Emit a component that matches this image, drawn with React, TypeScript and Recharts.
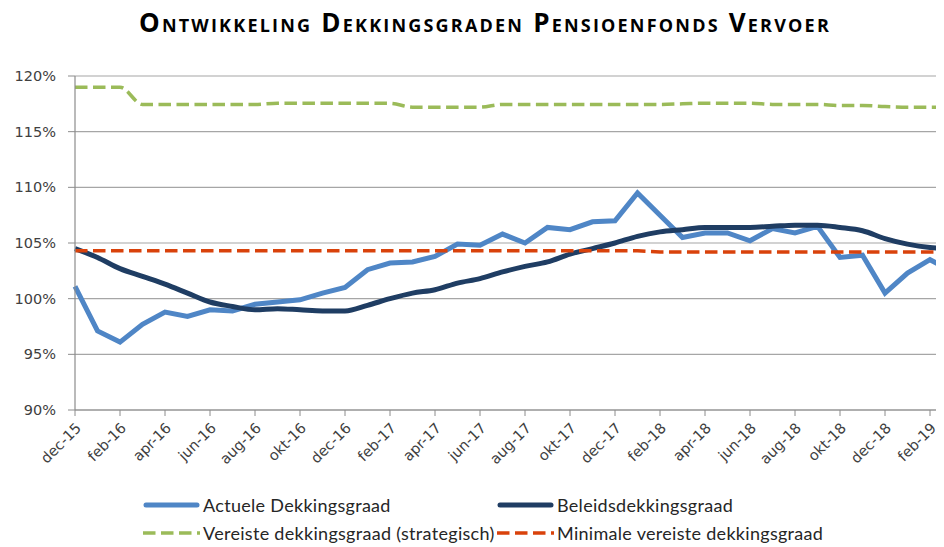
import { LineChart, Line, XAxis, YAxis, CartesianGrid, Legend } from 'recharts'

// maanden dec-15 t/m mrt-19
const months = [
  'dec-15', 'jan-16', 'feb-16', 'mrt-16', 'apr-16', 'mei-16', 'jun-16', 'jul-16', 'aug-16', 'sep-16',
  'okt-16', 'nov-16', 'dec-16', 'jan-17', 'feb-17', 'mrt-17', 'apr-17', 'mei-17', 'jun-17', 'jul-17',
  'aug-17', 'sep-17', 'okt-17', 'nov-17', 'dec-17', 'jan-18', 'feb-18', 'mrt-18', 'apr-18', 'mei-18',
  'jun-18', 'jul-18', 'aug-18', 'sep-18', 'okt-18', 'nov-18', 'dec-18', 'jan-19', 'feb-19', 'mrt-19',
]

const actueel = [
  101.1, 97.1, 96.1, 97.7, 98.8, 98.4, 99.0, 98.9, 99.5, 99.7,
  99.9, 100.5, 101.0, 102.6, 103.2, 103.3, 103.8, 104.9, 104.8, 105.8,
  105.0, 106.4, 106.2, 106.9, 107.0, 109.5, 107.5, 105.5, 105.9, 105.9,
  105.2, 106.3, 105.9, 106.5, 103.7, 103.9, 100.5, 102.3, 103.5, 102.4,
]

const beleid = [
  104.5, 103.7, 102.7, 102.0, 101.3, 100.5, 99.7, 99.3, 99.0, 99.1,
  99.0, 98.9, 98.9, 99.4, 100.0, 100.5, 100.8, 101.4, 101.8, 102.4,
  102.9, 103.3, 104.0, 104.5, 105.0, 105.6, 106.0, 106.2, 106.4, 106.4,
  106.4, 106.5, 106.6, 106.6, 106.4, 106.1, 105.4, 104.9, 104.6, 104.5,
]

const vereist = [
  119.0, 119.0, 119.0, 117.45, 117.45, 117.45, 117.45, 117.45, 117.45, 117.55,
  117.55, 117.55, 117.55, 117.55, 117.55, 117.2, 117.2, 117.2, 117.2, 117.45,
  117.45, 117.45, 117.45, 117.45, 117.45, 117.45, 117.45, 117.5, 117.55, 117.55,
  117.55, 117.45, 117.45, 117.45, 117.35, 117.35, 117.25, 117.2, 117.2, 117.2,
]

const minimaal = [
  104.3, 104.3, 104.3, 104.3, 104.3, 104.3, 104.3, 104.3, 104.3, 104.3,
  104.3, 104.3, 104.3, 104.3, 104.3, 104.3, 104.3, 104.3, 104.3, 104.3,
  104.3, 104.3, 104.3, 104.3, 104.3, 104.3, 104.2, 104.2, 104.2, 104.2,
  104.2, 104.2, 104.2, 104.2, 104.2, 104.2, 104.2, 104.2, 104.2, 104.2,
]

const yTicks = [90, 95, 100, 105, 110, 115, 120]

const data = months.map((m, i) => ({
  maand: m,
  actueel: actueel[i],
  beleid: beleid[i],
  vereist: vereist[i],
  minimaal: minimaal[i],
}))

const series = [
  { key: 'actueel', name: 'Actuele Dekkingsgraad', color: '#4f86c6', width: 5, dash: undefined, type: 'linear' },
  { key: 'beleid', name: 'Beleidsdekkingsgraad', color: '#1f3d63', width: 5, dash: undefined, type: 'monotone' },
  { key: 'vereist', name: 'Vereiste dekkingsgraad (strategisch)', color: '#9bbb59', width: 3.5, dash: '12.5 5.5', type: 'monotone' },
  { key: 'minimaal', name: 'Minimale vereiste dekkingsgraad', color: '#d9420b', width: 3.5, dash: '12.5 5.5', type: 'linear' },
] as const

const axisFont = '"DejaVu Sans", Verdana, sans-serif'
const labelFont = 'Lato, "Open Sans", sans-serif'

function MonthTick(props: any) {
  const { x, y, payload } = props
  const tx = x + 7
  const ty = y + 11
  return (
    <text
      x={tx}
      y={ty}
      textAnchor="end"
      transform={`rotate(-45, ${tx}, ${ty})`}
      fontSize={14.5}
      fontFamily={axisFont}
      fill="#404040"
    >
      {payload.value}
    </text>
  )
}

function Swatch({ color, width, dash }: { color: string; width: number; dash?: string }) {
  return (
    <svg width={57} height={10} style={{ display: 'block' }}>
      <line
        x1={dash ? 0 : 3}
        x2={dash ? 57 : 54}
        y1={5}
        y2={5}
        stroke={color}
        strokeWidth={width}
        strokeDasharray={dash}
        strokeLinecap={dash ? 'butt' : 'round'}
      />
    </svg>
  )
}

function LegendBox() {
  return (
    <div
      style={{
        display: 'grid',
        gridTemplateColumns: '354px 360px',
        rowGap: 8,
        fontFamily: labelFont,
        fontSize: 18,
        letterSpacing: 0.3,
        color: '#262626',
      }}
    >
      {series.map((s) => (
        <div key={s.key} style={{ display: 'flex', alignItems: 'center', height: 20, gap: 3 }}>
          <Swatch color={s.color} width={s.width} dash={s.dash} />
          <span style={{ whiteSpace: 'nowrap' }}>{s.name}</span>
        </div>
      ))}
    </div>
  )
}

export default function App() {
  return (
    <div style={{ position: 'relative', width: 936, height: 539, background: '#fff' }}>
      <div style={{ width: 936, height: 539, overflow: 'hidden' }}>
        <LineChart width={950} height={539} data={data} margin={{ top: 68, right: 5.5, left: 0, bottom: 67 }}>
          <CartesianGrid vertical={false} stroke="#a6a6a6" strokeWidth={1.2} />
          <XAxis
            dataKey="maand"
            interval={1}
            height={70}
            tick={<MonthTick />}
            tickSize={6}
            stroke="#8c8c8c"
            axisLine={{ stroke: '#8c8c8c', strokeWidth: 1.2 }}
          />
          <YAxis
            domain={[90, 120]}
            ticks={yTicks}
            tickFormatter={(v) => `${v}%`}
            width={67}
            tickSize={7}
            tickMargin={12}
            stroke="#8c8c8c"
            axisLine={{ stroke: '#8c8c8c', strokeWidth: 1.2 }}
            tick={{ fontSize: 14.5, fontFamily: axisFont, fill: '#404040' }}
          />
          <Legend
            layout="horizontal"
            verticalAlign="middle"
            content={() => <LegendBox />}
            wrapperStyle={{ top: 487, left: 135, width: 720, height: 60 }}
          />
          {series.map((s) => (
            <Line
              key={s.key}
              type={s.type}
              dataKey={s.key}
              name={s.name}
              stroke={s.color}
              strokeWidth={s.width}
              strokeDasharray={s.dash}
              dot={false}
              activeDot={false}
              isAnimationActive={false}
            />
          ))}
        </LineChart>
      </div>
      <div
        style={{
          position: 'absolute',
          top: -4,
          left: 0,
          width: 936,
          paddingLeft: 18,
          boxSizing: 'border-box',
          textAlign: 'center',
          fontFamily: '"Open Sans", sans-serif',
          fontWeight: 700,
          fontSize: 26,
          letterSpacing: 2.2,
          fontVariant: 'small-caps',
          color: '#000',
          whiteSpace: 'nowrap',
        }}
      >
        Ontwikkeling Dekkingsgraden Pensioenfonds Vervoer
      </div>
    </div>
  )
}
